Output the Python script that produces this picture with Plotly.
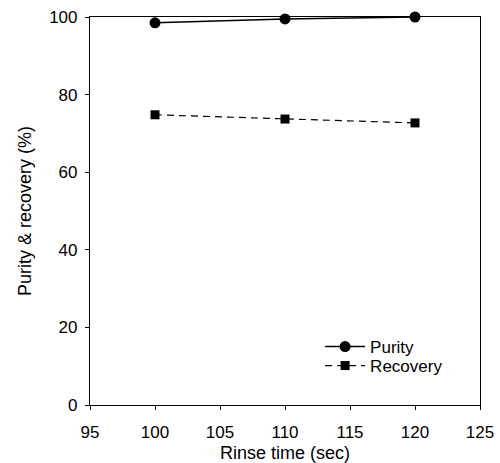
import plotly.graph_objects as go

rinse_time = [100, 110, 120]
purity = [98.5, 99.5, 100.0]
recovery = [74.8, 73.7, 72.7]

fig = go.Figure()
fig.add_trace(go.Scatter(x=rinse_time, y=purity, name="Purity", mode="lines+markers",
                         line=dict(color="black", width=1.5),
                         marker=dict(symbol="circle", size=11, color="black"),
                         cliponaxis=False, legend="legend"))
fig.add_trace(go.Scatter(x=rinse_time, y=recovery, name="Recovery", mode="lines+markers",
                         line=dict(color="black", width=1.2, dash="7px,5px"),
                         marker=dict(symbol="square", size=9, color="black"),
                         cliponaxis=False, legend="legend2"))

axis_common = dict(showline=True, linecolor="black", linewidth=1.2, mirror=True,
                   ticks="outside", ticklen=4, tickcolor="black", showgrid=False,
                   zeroline=False, automargin=False, tickfont=dict(size=17, color="black"))
leg_common = dict(xanchor="left", yanchor="middle", bgcolor="rgba(0,0,0,0)",
                  font=dict(size=17), itemwidth=40)
fig.update_layout(
    width=500, height=463,
    margin=dict(l=90, r=20, t=17, b=58),
    paper_bgcolor="white", plot_bgcolor="white",
    font=dict(family="Liberation Sans, Arial, sans-serif", color="black"),
    xaxis=dict(range=[95, 125], dtick=5, ticklabelstandoff=7,
               title=dict(text="Rinse time (sec)", font=dict(size=18), standoff=5), **axis_common),
    yaxis=dict(range=[0, 100], dtick=20, ticklabelstandoff=4,
               title=dict(text="Purity & recovery (%)", font=dict(size=18), standoff=12), **axis_common),
    legend=dict(x=0.59, y=0.1495, **leg_common),
    legend2=dict(x=0.59, y=0.1005, **leg_common),
    showlegend=True,
)
fig.write_html("out.html")
